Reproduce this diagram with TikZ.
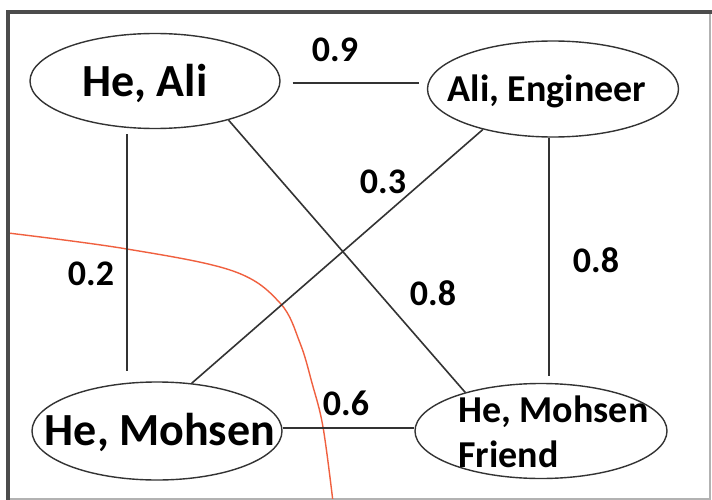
\documentclass[tikz,border=0pt]{standalone}
\usepackage{fontspec}
\setmainfont{Carlito}
\usetikzlibrary{shapes.geometric}
\definecolor{edgegray}{HTML}{333333}
\definecolor{redcurve}{HTML}{F0603F}
\begin{document}
\begin{tikzpicture}[x=1pt,y=-1pt,
  ell/.style={draw=edgegray, line width=1.4pt, ellipse, inner sep=0pt},
  edge/.style={draw=edgegray, line width=1.6pt},
  big/.style={font=\fontsize{46}{50}\selectfont\bfseries, anchor=base, inner sep=0pt},
  mid/.style={font=\fontsize{38}{44}\selectfont\bfseries, inner sep=0pt},
  wlab/.style={font=\fontsize{36}{40}\selectfont\bfseries, anchor=base, inner sep=0pt}]
\useasboundingbox (0,0) rectangle (712,500);
\fill[white] (0,0) rectangle (712,500);
% frame
\draw[line width=1.5pt, gray!60] (710,12) -- (710,499) -- (8,499);
\draw[line width=4pt, black!70] (8,500) -- (8,12) -- (712,12);
% ellipses
\node[ell, minimum width=250pt, minimum height=95pt] (a) at (155,81) {};
\node[ell, minimum width=251pt, minimum height=96pt] (b) at (553,89) {};
\node[ell, minimum width=250pt, minimum height=98pt] (m) at (157,431) {};
\node[ell, minimum width=252pt, minimum height=95pt] (f) at (541,431) {};
% red curve
\begin{scope}
\clip (10,14) rectangle (709,498);
\draw[redcurve, line width=1.4pt] plot[smooth, tension=0.6] coordinates
  {(8,233) (127,249) (233,271) (280,303) (300,343) (312,383) (323,427) (333,502)};
\end{scope}
% texts
\node[big] (at) at (145,97) {He, Ali};
\node[mid, anchor=base] (bt) at (547,102) {Ali, Engineer};
\node[big] (mt) at (160,445) {He, Mohsen};
\node[mid, anchor=base west] (ft1) at (458,422) {He, Mohsen};
\node[mid, anchor=base west] (ft2) at (458,467) {Friend};
% edges
\draw[edge, shorten <=12pt, shorten >=8pt] ([yshift=-2pt]a.east) -- ([yshift=-2pt]a.east -| b.west);
\draw[edge, shorten <=5pt, shorten >=10pt] ([xshift=-28pt]a.south) -- ([xshift=-28pt]a.south |- m.north);
\draw[edge] (a.-28) -- (f.153);
\draw[edge] (b.-150) -- (m.54);
\draw[edge, shorten >=7pt] ([xshift=-4pt]b.south) -- ([xshift=-4pt]b.south |- f.north);
\draw[edge] ([yshift=3pt]m.east) -- ([yshift=3pt]m.east -| f.west);
% weights
\node[wlab] (w1) at (335,62) {0.9};
\node[wlab] (w2) at (383,193) {0.3};
\node[wlab] (w3) at (91,285) {0.2};
\node[wlab] (w4) at (433,305) {0.8};
\node[wlab] (w5) at (596,272) {0.8};
\node[wlab] (w6) at (346,415) {0.6};
\end{tikzpicture}
\end{document}
